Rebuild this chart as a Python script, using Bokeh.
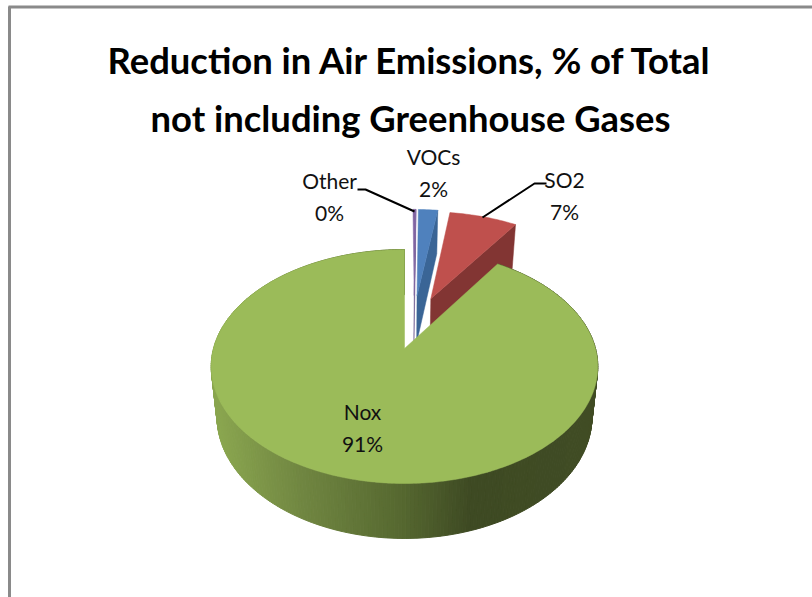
import math
from bokeh.plotting import figure
from bokeh.models import Range1d
from bokeh.core.properties import value
from bokeh.embed import file_html
from bokeh.resources import INLINE

# ---- data
categories = ["Other", "VOCs", "SO2", "Nox"]
shares = [0.3, 2, 7, 91]
share_labels = ["0%", "2%", "7%", "91%"]
title_lines = ["Reduction in Air Emissions, % of Total", "not including Greenhouse Gases"]

# ---- styling
top_colors = ["#8064a2", "#4f81bd", "#bf504d", "#9bbb59"]
cut_colors = ["#65508a", "#3a6596", "#823533", "#55672f"]
explode = [0.5, 0.5, 0.5, 0.0]
nudge = [0.05, 0.03, -0.03, 0.0]
FONT = "Lato"
CX, CY, R, RC, K = 404.0, 348.0, 191.0, 114.2, 0.154
XSHRINK, YGROW, DEPTH = 0.97, 1.042, 49.3

def top_pt(u, v):
    d = 1 + K * v
    return CX + R * u / d, CY - RC * v / d

def bottom_pt(u, v):
    x, y = top_pt(u, v)
    return CX + (x - CX) * XSHRINK, CY + (y - CY) * YGROW + DEPTH

stops = [(215, (0x8a, 0xa6, 0x4f)), (300, (0x70, 0x86, 0x41)), (400, (0x56, 0x68, 0x30)),
         (470, (0x3e, 0x4a, 0x23)), (600, (0x40, 0x4c, 0x24))]

def wall_color(x):
    x = max(stops[0][0], min(stops[-1][0], x))
    for (a, ca), (b, cb) in zip(stops, stops[1:]):
        if x <= b:
            t = (x - a) / (b - a)
            return "#%02x%02x%02x" % tuple(int(round(p + (q - p) * t)) for p, q in zip(ca, cb))
    return "#404c24"

W, H = 812, 597
p = figure(width=W, height=H, x_range=Range1d(0, W), y_range=Range1d(H, 0),
           toolbar_location=None, output_backend="svg", min_border=0,
           x_axis_type=None, y_axis_type=None, outline_line_color=None,
           background_fill_color="white", border_fill_color="white")
p.grid.visible = False

total = sum(shares)
start = 0.0
slices = []
for i, s in enumerate(shares):
    sweep = 360.0 * s / total
    slices.append((start, start + sweep))
    start += sweep

def slice_geom(i):
    a0, a1 = slices[i]
    mid = math.radians((a0 + a1) / 2)
    au = explode[i] * math.sin(mid) + nudge[i]
    av = explode[i] * math.cos(mid)
    n = max(2, int((a1 - a0) / 1.0))
    rim = []
    for j in range(n + 1):
        th = math.radians(a0 + (a1 - a0) * j / n)
        rim.append((au + math.sin(th), av + math.cos(th)))
    return (au, av), rim

# painter's order: SO2, VOCs, Other, then Nox on top
for i in [2, 1, 0, 3]:
    apex, rim = slice_geom(i)
    if i == 3:
        xs, ys, cs = [], [], []
        for (a, b) in zip(rim, rim[1:]):
            t1, t2, b1, b2 = top_pt(*a), top_pt(*b), bottom_pt(*a), bottom_pt(*b)
            xs.append([t1[0], t2[0], b2[0], b1[0]])
            ys.append([t1[1], t2[1], b2[1], b1[1]])
            cs.append(wall_color((t1[0] + t2[0]) / 2))
        p.patches(xs, ys, fill_color=cs, line_color=cs, line_width=1)
    else:
        e = rim[-1]
        q = [top_pt(*apex), top_pt(*e), bottom_pt(*e), bottom_pt(*apex)]
        p.patch([c[0] for c in q], [c[1] for c in q], fill_color=cut_colors[i],
                line_color=cut_colors[i], line_width=0.5)
    pts = [top_pt(*apex)] + [top_pt(*c) for c in rim]
    p.patch([c[0] for c in pts], [c[1] for c in pts], fill_color=top_colors[i],
            line_color=top_colors[i], line_width=0.5)

# frame
p.line([9, 9], [H, 6], line_color="#8a8a8a", line_width=3)
p.line([8, W], [6.5, 6.5], line_color="#8a8a8a", line_width=3)

# leader lines
p.line([357, 365, 414], [189, 189, 211], line_color="black", line_width=2)
p.line([546, 534, 482], [183, 183, 217], line_color="black", line_width=2)

def label(x, y, t, size, style="normal"):
    p.text([x], [y], text=[t], text_font=value(FONT), text_font_size=size,
           text_font_style=style, text_align="center", text_baseline="middle",
           text_color="#111111" if style == "normal" else "black")

label(410, 59, title_lines[0], "36.4px", "bold")
label(410, 117, title_lines[1], "36.4px", "bold")

label_pos = {"Other": (329, 180), "VOCs": (433, 156), "SO2": (564, 179), "Nox": (362, 411)}
for c, t in zip(categories, share_labels):
    x, y = label_pos[c]
    label(x, y, c, "21px")
    label(x, y + 32, t, "21px")

open("out.html", "w").write(file_html(p, INLINE))
